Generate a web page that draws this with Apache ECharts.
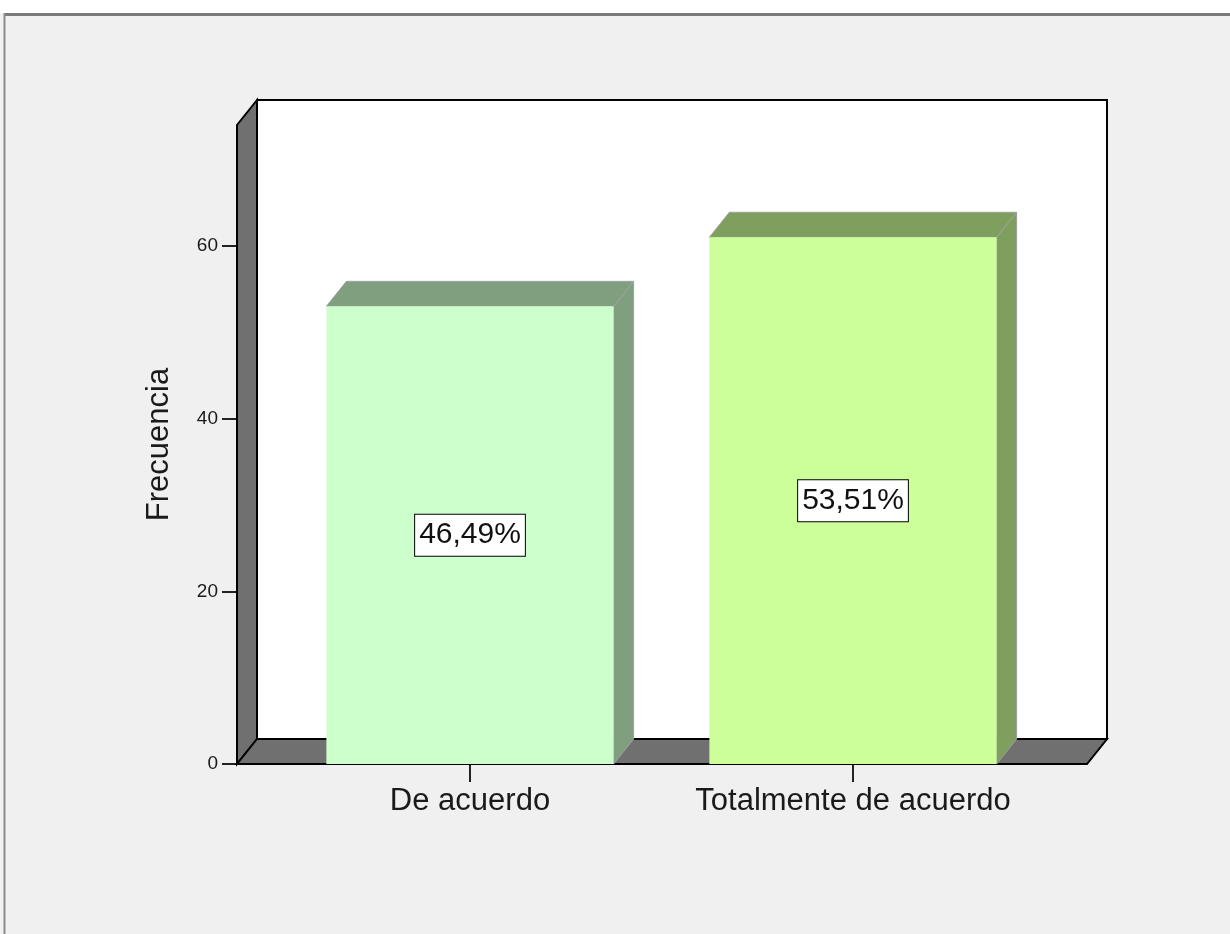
<!DOCTYPE html>
<html>
<head>
<meta charset="utf-8">
<script src="https://cdn.jsdelivr.net/npm/echarts@6/dist/echarts.min.js"></script>
<style>
  html, body { margin: 0; padding: 0; background: #ffffff; }
  #myechart { width: 1230px; height: 934px; }
</style>
</head>
<body>
<div id="myechart"></div>
<script>
// data
var categories = ['De acuerdo', 'Totalmente de acuerdo'];
var counts = [53, 61];
var pctLabels = ['46,49%', '53,51%'];
var yTicks = [0, 20, 40, 60];
var yMax = 74;

// 3d look
var depthX = 20, depthY = -25;
var frontColors = ['#ccffcc', '#ccff99'];
var shadeColors = ['#7f9f7f', '#7f9f5f'];
var wallColor = '#707070';

var myechart = echarts.init(document.getElementById('myechart'));

// back wall, left wall and floor, placed with the axis scales of grid 0
function renderWalls(params, api) {
  var lb = api.coord([0, 0]);
  var rt = api.coord([1, yMax]);
  return {
    type: 'group',
    children: [
      {
        type: 'rect',
        shape: { x: lb[0] + depthX, y: rt[1] + depthY, width: rt[0] - lb[0], height: lb[1] - rt[1] },
        style: { fill: '#ffffff', stroke: '#000', lineWidth: 2 }
      },
      {
        type: 'polygon',
        shape: { points: [lb, [lb[0], rt[1]], [lb[0] + depthX, rt[1] + depthY], [lb[0] + depthX, lb[1] + depthY]] },
        style: { fill: wallColor, stroke: '#000', lineWidth: 2 }
      },
      {
        type: 'polygon',
        shape: { points: [lb, [lb[0] + depthX, lb[1] + depthY], [rt[0] + depthX, lb[1] + depthY], [rt[0], lb[1]]] },
        style: { fill: wallColor, stroke: '#000', lineWidth: 2 }
      }
    ]
  };
}

function renderBar(params, api) {
  var i = params.dataIndex;
  var top = api.coord([api.value(0), api.value(1)]);
  var base = api.coord([api.value(0), 0]);
  var w = api.size([1, 0])[0] * 0.75;
  var xl = top[0] - w / 2, xr = top[0] + w / 2;
  return {
    type: 'group',
    children: [
      {
        type: 'polygon',
        shape: { points: [[xr, top[1]], [xr + depthX, top[1] + depthY], [xr + depthX, base[1] + depthY], [xr, base[1]]] },
        style: { fill: shadeColors[i], stroke: '#a0a0a0', lineWidth: 1 }
      },
      {
        type: 'polygon',
        shape: { points: [[xl, top[1]], [xl + depthX, top[1] + depthY], [xr + depthX, top[1] + depthY], [xr, top[1]]] },
        style: { fill: shadeColors[i], stroke: '#a0a0a0', lineWidth: 1 }
      },
      {
        type: 'rect',
        shape: { x: xl, y: top[1], width: w, height: base[1] - top[1] },
        style: { fill: frontColors[i] }
      },
      {
        type: 'text',
        x: top[0],
        y: (top[1] + base[1]) / 2,
        style: {
          text: pctLabels[i],
          align: 'center',
          verticalAlign: 'middle',
          fontSize: 30,
          fontFamily: 'Liberation Sans, Arial, sans-serif',
          fill: '#111',
          backgroundColor: '#ffffff',
          borderColor: '#000',
          borderWidth: 1,
          padding: [6, 4, 5, 4]
        }
      }
    ]
  };
}

var option = {
  backgroundColor: '#f0f0f0',
  animation: false,
  textStyle: { fontFamily: 'Liberation Sans, Arial, sans-serif' },
  graphic: [
    { type: 'rect', shape: { x: 0, y: 0, width: 1230, height: 13 }, style: { fill: '#ffffff' }, z: 100 },
    { type: 'line', shape: { x1: 4, y1: 14.5, x2: 1230, y2: 14.5 }, style: { stroke: '#7a7a7a', lineWidth: 3 }, z: 100 },
    { type: 'line', shape: { x1: 4.5, y1: 13, x2: 4.5, y2: 934 }, style: { stroke: '#8a8a8a', lineWidth: 2 }, z: 100 }
  ],
  grid: [
    { left: 237, top: 125, width: 850, height: 639 },
    { left: 278.5, top: 125, width: 766, height: 639 }
  ],
  xAxis: [
    { type: 'value', gridIndex: 0, min: 0, max: 1, show: false },
    {
      type: 'category',
      gridIndex: 1,
      data: categories,
      axisLine: { show: false },
      axisTick: { show: true, interval: 0, alignWithLabel: true, length: 18, lineStyle: { color: '#222', width: 2 } },
      axisLabel: { interval: 0, fontSize: 31, color: '#1a1a1a', margin: 22 }
    }
  ],
  yAxis: [
    {
      type: 'value',
      gridIndex: 0,
      min: 0,
      max: yMax,
      interval: 20,
      name: 'Frecuencia',
      nameLocation: 'middle',
      nameGap: 62,
      nameTextStyle: { fontSize: 31, color: '#1a1a1a' },
      axisLine: { show: false },
      axisTick: { show: true, length: 15, lineStyle: { color: '#222', width: 2 }, customValues: yTicks },
      axisLabel: { fontSize: 19, color: '#1a1a1a', margin: 19, customValues: yTicks },
      splitLine: { show: false }
    },
    { type: 'value', gridIndex: 1, min: 0, max: yMax, show: false }
  ],
  series: [
    {
      type: 'custom',
      xAxisIndex: 0,
      yAxisIndex: 0,
      clip: false,
      silent: true,
      renderItem: renderWalls,
      data: [[0, 0]],
      z: 1
    },
    {
      type: 'custom',
      xAxisIndex: 1,
      yAxisIndex: 1,
      clip: false,
      renderItem: renderBar,
      data: counts.map(function (c, i) { return [i, c]; }),
      z: 2
    }
  ]
};

myechart.setOption(option);
</script>
</body>
</html>
